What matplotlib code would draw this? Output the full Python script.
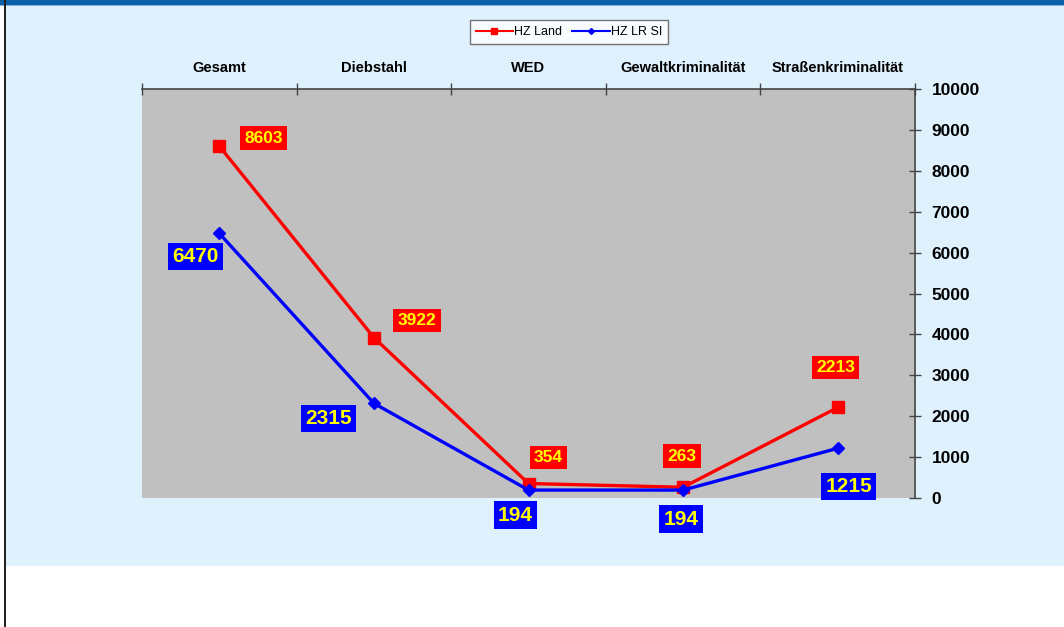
import numpy as np
import matplotlib.pyplot as plt
from matplotlib.patches import Rectangle
from matplotlib.lines import Line2D

# Häufigkeitszahlen je Deliktbereich
kategorien = ['Gesamt', 'Diebstahl', 'WED', 'Gewaltkriminalität', 'Straßenkriminalität']
hz_land = [8603, 3922, 354, 263, 2213]
hz_lr_si = [6470, 2315, 194, 194, 1215]
y_ticks = [0, 1000, 2000, 3000, 4000, 5000, 6000, 7000, 8000, 9000, 10000]

# label offsets in pixels relative to the data point
off_land = [(44, 8), (43, 17), (20, 26), (-1, 31), (-2, 40)]
off_lr = [(-24, -23), (-45, -15), (-13, -25), (-2, -29), (11, -38)]

W, H = 1064, 627
fig = plt.figure(figsize=(W / 100, H / 100), dpi=100)
fig.patch.set_facecolor('white')

# background panel, header bar and left border
fig.patches.append(Rectangle((6 / W, 1 - 566 / H), 1, 561 / H, transform=fig.transFigure,
                             facecolor='#E0F1FE', edgecolor='none', zorder=0))
fig.patches.append(Rectangle((0, 1 - 5 / H), 1, 5 / H, transform=fig.transFigure,
                             facecolor='#0A5FA6', edgecolor='none', zorder=1))
fig.patches.append(Rectangle((0, 1 - 6 / H), 1, 1.5 / H, transform=fig.transFigure,
                             facecolor='#7FB2DD', edgecolor='none', zorder=1))
fig.patches.append(Rectangle((4 / W, 0), 2 / W, 1, transform=fig.transFigure,
                             facecolor='#222222', edgecolor='none', zorder=2))

ax = fig.add_axes([142 / W, 1 - 498 / H, (915 - 142) / W, (498 - 89) / H])
ax.set_zorder(5)
ax.set_facecolor('#C0C0C0')

x = np.arange(len(kategorien))
ax.plot(x, hz_land, color='#FF0000', lw=2.4, marker='s', ms=9, label='HZ Land', zorder=3)
ax.plot(x, hz_lr_si, color='#0000FF', lw=2.4, marker='D', ms=6, label='HZ LR SI', zorder=3)

ax.set_xlim(-0.5, len(kategorien) - 0.5)
ax.set_ylim(0, 10000)

# category axis on top
ax.xaxis.tick_top()
ax.set_xticks(np.arange(-0.5, len(kategorien)), labels=[''] * (len(kategorien) + 1))
ax.set_xticks(x, labels=kategorien, minor=True)
ax.tick_params(axis='x', which='major', direction='inout', length=8, width=1, color='#444444')
ax.tick_params(axis='x', which='minor', length=0, pad=10, labelsize=10.5)
for lab in ax.get_xticklabels(minor=True):
    lab.set_fontweight('bold')
    lab.set_fontfamily(['Liberation Sans Narrow', 'Liberation Sans', 'DejaVu Sans'])

# value axis on the right
ax.yaxis.tick_right()
ax.set_yticks(y_ticks)
ax.tick_params(axis='y', direction='inout', length=8, width=1, color='#444444',
               labelsize=12.5, pad=8)
for lab in ax.get_yticklabels():
    lab.set_fontweight('bold')
    lab.set_fontfamily(['Liberation Sans', 'DejaVu Sans'])

for s in ['left', 'bottom']:
    ax.spines[s].set_visible(False)
for s in ['top', 'right']:
    ax.spines[s].set_color('#444444')
    ax.spines[s].set_linewidth(1.2)

# value labels
for xi, v, (dx, dy) in zip(x, hz_land, off_land):
    ax.annotate(str(v), (xi, v), xytext=(dx, dy), textcoords='offset pixels',
                ha='center', va='center', color='#FFFF00', fontsize=12.5, fontweight='bold',
                family=['Liberation Sans', 'DejaVu Sans'], annotation_clip=False, zorder=5,
                bbox=dict(boxstyle='square,pad=0.25', facecolor='#FF0000', edgecolor='none'))
for xi, v, (dx, dy) in zip(x, hz_lr_si, off_lr):
    ax.annotate(str(v), (xi, v), xytext=(dx, dy), textcoords='offset pixels',
                ha='center', va='center', color='#FFFF00', fontsize=15, fontweight='bold',
                family=['Liberation Sans', 'DejaVu Sans'], annotation_clip=False, zorder=5,
                bbox=dict(boxstyle='square,pad=0.2', facecolor='#0000FF', edgecolor='none'))

# legend with thin handles
handles = [Line2D([], [], color='#FF0000', lw=1.5, marker='s', ms=4),
           Line2D([], [], color='#0000FF', lw=1.5, marker='D', ms=3)]
leg = fig.legend(handles, ['HZ Land', 'HZ LR SI'], loc='center',
                 bbox_to_anchor=(569 / W, 1 - 32 / H), ncol=2,
                 frameon=True, fancybox=False, handlelength=3.0,
                 handletextpad=0.1, columnspacing=0.8, borderpad=0.45,
                 prop={'family': ['Liberation Sans', 'DejaVu Sans'], 'size': 9})
leg.set_zorder(6)
leg.get_frame().set_edgecolor('#555555')
leg.get_frame().set_linewidth(1)

fig.savefig('out.png', dpi=100)
